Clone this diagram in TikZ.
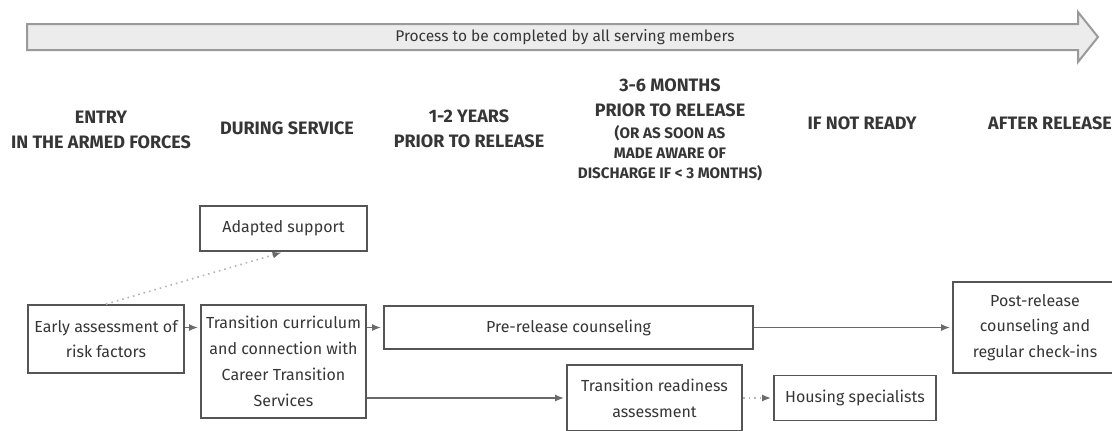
\documentclass[tikz,border=0pt]{standalone}
\usepackage{fontspec}
\setmainfont{Fira Sans}
\usetikzlibrary{arrows.meta,positioning}
\definecolor{inkgray}{HTML}{363636}
\definecolor{edgegray}{HTML}{555555}
\definecolor{linkgray}{HTML}{6A6A6A}
\definecolor{dotgray}{HTML}{B4B4B4}
\definecolor{bandfill}{HTML}{ECECEC}
\definecolor{bandedge}{HTML}{9A9A9A}

\begin{document}
\begin{tikzpicture}[x=0.5pt,y=-0.5pt,shorten >=1pt,on grid,
   >={Latex[length=4.5pt,width=3.5pt]},
   box/.style={draw=edgegray,line width=0.9pt,fill=white,text=inkgray,align=center,
     inner sep=2pt,font=\fontsize{8}{12.9}\selectfont},
   phase/.style={text=inkgray,align=center,font=\bfseries\fontsize{9}{12.5}\selectfont},
   note/.style={text=inkgray,align=center,font=\bfseries\fontsize{7.6}{10}\selectfont},
   link/.style={draw=linkgray,line width=0.8pt},
   hint/.style={draw=dotgray,line width=0.8pt,dotted,-{Latex[length=4.5pt,width=3.5pt,color=linkgray]}}]
   \useasboundingbox (0,0) rectangle (1112,430);
   \draw[fill=bandfill,draw=bandedge,line width=1pt]
     (27,24) -- (1078,24) -- (1078,12) -- (1098,37) -- (1078,62) -- (1078,50) -- (27,50) -- cycle;
   \node[text=inkgray,font=\fontsize{7.75}{10}\selectfont] (band) at (565,37) {Process to be completed by all serving members};

   \node[phase] (h_1) at (101,130) {ENTRY\\IN THE ARMED FORCES};
   \node[phase] (h_2) at (287,128) {DURING SERVICE};
   \node[phase] (h_3) at (469,129) {1-2 YEARS\\PRIOR TO RELEASE};
   \node[phase] (h_4) at (670,98) {3-6 MONTHS\\PRIOR TO RELEASE};
   \node[note] (h_4n) [below=27.5pt of h_4] {(OR AS SOON AS\\MADE AWARE OF\\DISCHARGE IF < 3 MONTHS)};
   \node[phase] (h_5) at (862,123) {IF NOT READY};
   \node[phase] (h_6) at (1050,123) {AFTER RELEASE};

   \node[box,minimum width=78pt,minimum height=34pt] (p_1) at (106,339) {Early assessment of\\risk factors};
   \node[box,minimum width=82.5pt,minimum height=56.5pt] (p_2) at (283.5,361.5) {Transition curriculum\\and connection with\\Career Transition\\Services};
   \node[box,minimum width=83.5pt,minimum height=22.5pt] (p_3) [above=66.5pt of p_2] {Adapted support};
   \node[box,minimum width=184.5pt,minimum height=21.5pt] (p_4) at (568.5,327.5) {Pre-release counseling};
   \node[box,minimum width=82pt,minimum height=45.5pt] (p_5) [right=233.25pt of p_4] {Post-release\\counseling and\\regular check-ins};
   \node[box,minimum width=87.5pt,minimum height=33pt] (p_6) at (654.5,398) {Transition readiness\\assessment};
   \node[box,minimum width=81pt,minimum height=22.5pt] (p_7) [right=100.25pt of p_6] {Housing specialists};

   \path[->]
    (p_1.east |- p_4) edge[link] (p_2.west |- p_4)
    (p_2.east |- p_4) edge[link] (p_4)
    (p_4) edge[link] (p_5)
    (p_2.east |- p_6) edge[link] (p_6)
    (p_1.north) edge[hint] (p_3.south)
    (p_6) edge[hint] (p_7);
\end{tikzpicture}
\end{document}
